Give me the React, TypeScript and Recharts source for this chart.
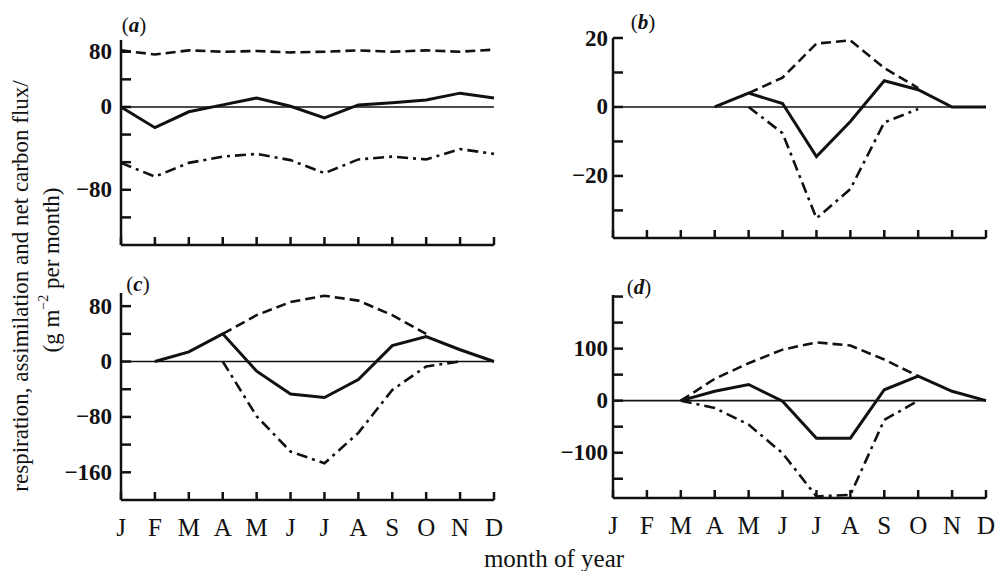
import React from 'react';
import { LineChart, Line, XAxis, YAxis, ReferenceLine } from 'recharts';

const months = ['J', 'F', 'M', 'A', 'M', 'J', 'J', 'A', 'S', 'O', 'N', 'D'];
const monthIdx = [0, 1, 2, 3, 4, 5, 6, 7, 8, 9, 10, 11];

// (a)
const aNet = [0, -30, -7, 3, 13, 1, -16, 3, 6, 10, 20, 13];
const aResp = [82, 76, 82, 80, 81, 79, 80, 82, 80, 82, 80, 83];
const aAssim = [-81, -101, -81, -72, -68, -77, -96, -76, -72, -76, -61, -68];
const aTicks = [80, 40, 0, -40, -80, -120, -160];
const aTickLabels = ['80', '', '0', '', '', '\u221280', ''];

// (b)
const bNet = [null, null, null, 0, 4, 1, -14.4, -4.2, 7.6, 5, 0, 0];
const bResp = [null, null, null, null, 4, 8.5, 18.4, 19.3, 11.3, 5.5, null, null];
const bAssim = [null, null, null, null, 0, -7.6, -32.3, -23.8, -4.5, -0.6, null, null];
const bTicks = [20, 10, 0, -10, -20, -30];
const bTickLabels = ['20', '', '0', '', '\u221220', ''];

// (c)
const cNet = [null, 0, 14, 40, -14, -47, -52, -26, 23, 36, 17, 0];
const cResp = [null, null, null, 40, 67, 86, 95, 88, 67, 40, null, null];
const cAssim = [null, null, null, 0, -79, -130, -147, -103, -41, -7, 0, null];
const cTicks = [80, 40, 0, -40, -80, -120, -160];
const cTickLabels = ['80', '', '0', '', '\u221280', '', '\u2212160'];

// (d)
const dNet = [null, null, 0, 18, 31, -1, -72, -72, 21, 47, 18, 0];
const dResp = [null, null, 0, 42, 72, 98, 112, 106, 79, 47, null, null];
const dAssim = [null, null, 0, -14, -46, -101, -184, -181, -37, 0, null, null];
const dTicks = [200, 150, 100, 50, 0, -50, -100, -150];
const dTickLabels = ['', '', '100', '', '0', '', '\u2212100', ''];

const INK = '#111';
const SERIF = '"Liberation Serif", "DejaVu Serif", serif';

type PanelProps = {
  left: number;
  top: number;
  width: number;
  height: number;
  margin: { top: number; right: number; bottom: number; left: number };
  domain: [number, number];
  ticks: number[];
  tickLabels: string[];
  net: (number | null)[];
  resp: (number | null)[];
  assim: (number | null)[];
  showMonths: boolean;
  labelGap: number;
};

function Panel(p: PanelProps) {
  const data = monthIdx.map((i) => ({ i, net: p.net[i], resp: p.resp[i], assim: p.assim[i] }));
  const m = { ...p.margin, left: p.margin.left - 1, bottom: p.margin.bottom - 1 };

  const renderYTick = (props: any) => {
    const { x, y, payload } = props;
    const k = p.ticks.indexOf(payload.value);
    const lab = k >= 0 ? p.tickLabels[k] : '';
    return (
      <g>
        <line x1={x} y1={y} x2={x + 10} y2={y} stroke={INK} strokeWidth={2.5} />
        {lab ? (
          <text
            x={x - p.labelGap}
            y={y}
            textAnchor="end"
            dominantBaseline="central"
            fontFamily={SERIF}
            fontWeight="bold"
            fontSize={23}
            fill={INK}
          >
            {lab}
          </text>
        ) : null}
      </g>
    );
  };

  const renderXTick = (props: any) => {
    const { x, y, payload } = props;
    return (
      <g>
        <line x1={x} y1={y} x2={x} y2={y - 8} stroke={INK} strokeWidth={2.5} />
        {p.showMonths ? (
          <text
            x={x}
            y={y + 36}
            textAnchor="middle"
            fontFamily={SERIF}
            fontSize={25}
            fill={INK}
          >
            {months[payload.value]}
          </text>
        ) : null}
      </g>
    );
  };

  return (
    <div style={{ position: 'absolute', left: p.left, top: p.top, width: p.width, height: p.height }}>
      <LineChart width={p.width} height={p.height} data={data} margin={m}>
        <XAxis
          dataKey="i"
          type="number"
          domain={[0, 11]}
          ticks={monthIdx}
          interval={0}
          height={1}
          tickSize={0}
          tickMargin={0}
          tickLine={false}
          axisLine={{ stroke: INK, strokeWidth: 2.5 }}
          tick={renderXTick}
        />
        <YAxis
          type="number"
          domain={p.domain}
          ticks={p.ticks}
          allowDataOverflow
          interval={0}
          width={1}
          tickSize={0}
          tickMargin={0}
          tickLine={false}
          axisLine={{ stroke: INK, strokeWidth: 2.5 }}
          tick={renderYTick}
        />
        <ReferenceLine y={0} stroke={INK} strokeWidth={1.6} />
        <Line
          dataKey="resp"
          type="linear"
          stroke={INK}
          strokeWidth={2.6}
          strokeDasharray="10 5"
          dot={false}
          activeDot={false}
          isAnimationActive={false}
        />
        <Line
          dataKey="assim"
          type="linear"
          stroke={INK}
          strokeWidth={2.6}
          strokeDasharray="11 5 3 5"
          dot={false}
          activeDot={false}
          isAnimationActive={false}
        />
        <Line
          dataKey="net"
          type="linear"
          stroke={INK}
          strokeWidth={3}
          dot={false}
          activeDot={false}
          isAnimationActive={false}
        />
      </LineChart>
    </div>
  );
}

function PanelLabel({ x, y, letter }: { x: number; y: number; letter: string }) {
  return (
    <text x={x} y={y} textAnchor="middle" dominantBaseline="central" fontSize={21}>
      (<tspan fontStyle="italic" fontWeight="bold">{letter}</tspan>)
    </text>
  );
}

export default function App() {
  return (
    <div style={{ position: 'absolute', left: 0, top: 0, width: 998, height: 571, background: '#fff' }}>
      <Panel
        left={0}
        top={0}
        width={520}
        height={260}
        margin={{ top: 40, right: 26, bottom: 15, left: 121 }}
        domain={[-200, 97]}
        ticks={aTicks}
        tickLabels={aTickLabels}
        net={aNet}
        resp={aResp}
        assim={aAssim}
        showMonths={false}
        labelGap={9}
      />
      <Panel
        left={520}
        top={0}
        width={478}
        height={260}
        margin={{ top: 38, right: 12, bottom: 22, left: 93 }}
        domain={[-38, 20]}
        ticks={bTicks}
        tickLabels={bTickLabels}
        net={bNet}
        resp={bResp}
        assim={bAssim}
        showMonths={false}
        labelGap={5}
      />
      <Panel
        left={0}
        top={260}
        width={520}
        height={311}
        margin={{ top: 33, right: 26, bottom: 71, left: 121 }}
        domain={[-200, 99]}
        ticks={cTicks}
        tickLabels={cTickLabels}
        net={cNet}
        resp={cResp}
        assim={cAssim}
        showMonths={true}
        labelGap={9}
      />
      <Panel
        left={520}
        top={260}
        width={478}
        height={311}
        margin={{ top: 35, right: 12, bottom: 73, left: 93 }}
        domain={[-187, 203]}
        ticks={dTicks}
        tickLabels={dTickLabels}
        net={dNet}
        resp={dResp}
        assim={dAssim}
        showMonths={true}
        labelGap={5}
      />
      <svg
        width={998}
        height={571}
        style={{ position: 'absolute', left: 0, top: 0, pointerEvents: 'none' }}
      >
        <g fontFamily={SERIF} fill={INK}>
          <PanelLabel x={134} y={25} letter="a" />
          <PanelLabel x={643} y={22} letter="b" />
          <PanelLabel x={138} y={284} letter="c" />
          <PanelLabel x={639} y={287} letter="d" />
          <text
            transform="translate(20,286) rotate(-90)"
            textAnchor="middle"
            dominantBaseline="central"
            fontSize={23}
          >
            respiration, assimilation and net carbon flux/
          </text>
          <text
            transform="translate(51,270) rotate(-90)"
            textAnchor="middle"
            dominantBaseline="central"
            fontSize={23}
          >
            (g m<tspan dy={-8} fontSize={14}>{'\u22122'}</tspan><tspan dy={8}> per month)</tspan>
          </text>
          <text x={554} y={567} textAnchor="middle" fontSize={25}>
            month of year
          </text>
        </g>
      </svg>
    </div>
  );
}
